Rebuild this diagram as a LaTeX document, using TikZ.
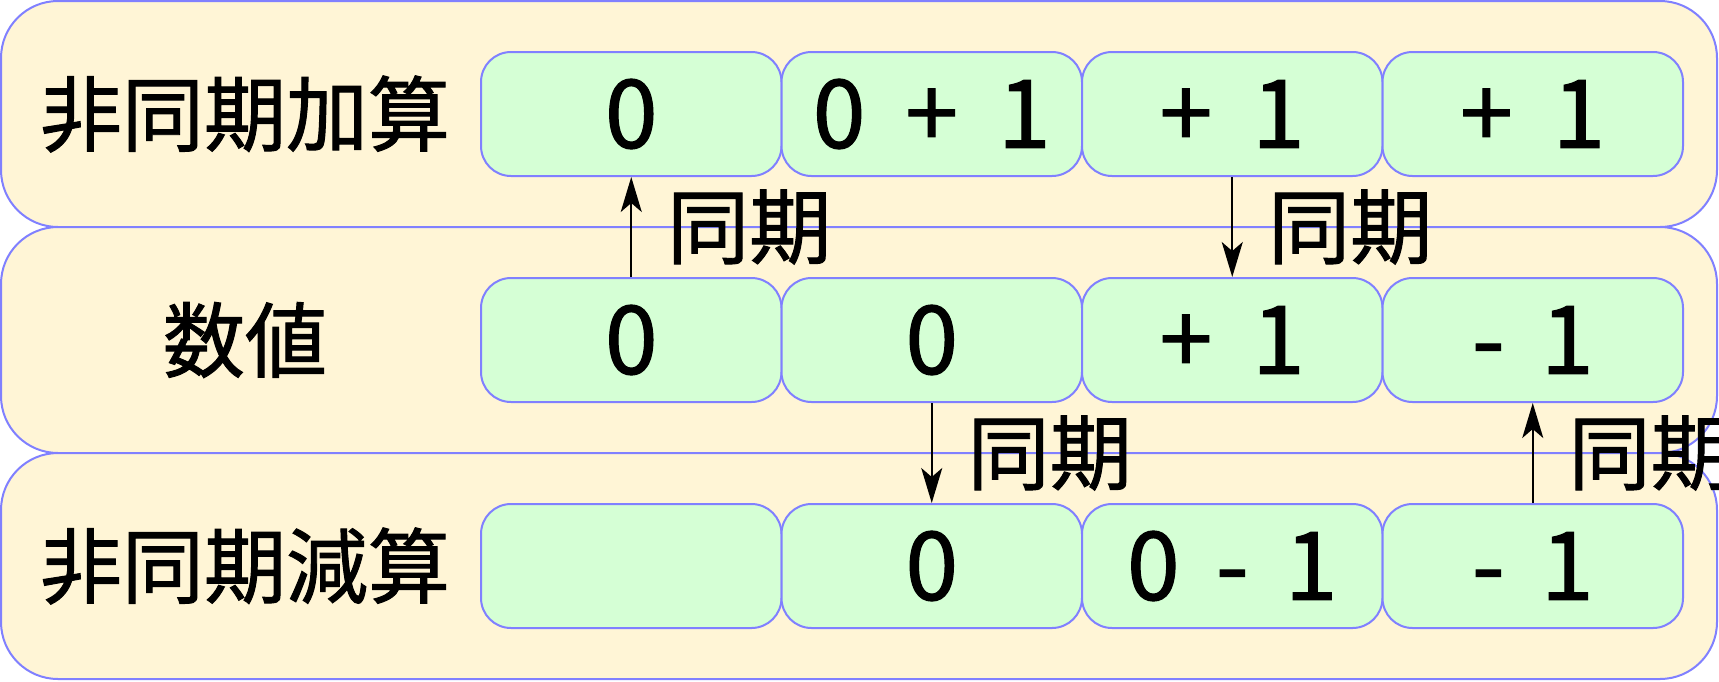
\documentclass[tikz,border=0pt]{standalone}
\usepackage{fontspec}
\setmainfont{Noto Sans CJK JP}[FakeBold=1.2]
\usetikzlibrary{arrows.meta}
\definecolor{cream}{RGB}{255,245,214}
\definecolor{mint}{RGB}{213,255,213}
\definecolor{bord}{RGB}{128,128,255}
\newcommand\labfont{\fontsize{82pt}{98pt}\selectfont}
\newcommand\valfont{\fontsize{95pt}{114pt}\selectfont}
\newcommand\pgap{\hspace{0.42em}}
\newcommand\mgap{\hspace{0.38em}}
\tikzset{
  rowbox/.style={draw=bord, fill=cream, line width=2pt, rounded corners=57pt,
    minimum width=1716pt, minimum height=226pt, inner sep=0pt},
  cell/.style={draw=bord, fill=mint, line width=2pt, rounded corners=30pt,
    minimum width=300.5pt, minimum height=124pt, inner sep=0pt, font=\valfont},
  rowlabel/.style={font=\labfont, inner sep=0pt},
  sync/.style={-{Stealth[length=35pt,width=21pt,inset=9pt]}, line width=2pt},
  synclabel/.style={font=\labfont, inner sep=0pt, anchor=west, xshift=35pt}
}
\begin{document}
\begin{tikzpicture}[x=1pt,y=-1pt]
\useasboundingbox (0,0) rectangle (1719,681);
% rows
\node[rowbox] (r1) at (859,114) {};
\node[rowbox] (r2) at (859,340) {};
\node[rowbox] (r3) at (859,566) {};
% row labels
\node[rowlabel] (l1) at (245,114) {非同期加算};
\node[rowlabel] (l2) at (245,340) {数値};
\node[rowlabel] (l3) at (245,566) {非同期減算};
% cells row 1
\node[cell] (c11) at (631.25,114) {0};
\node[cell] (c12) at (931.75,114) {0\pgap+\pgap1};
\node[cell] (c13) at (1232.25,114) {+\pgap1};
\node[cell] (c14) at (1532.75,114) {+\pgap1};
% cells row 2
\node[cell] (c21) at (631.25,340) {0};
\node[cell] (c22) at (931.75,340) {0};
\node[cell] (c23) at (1232.25,340) {+\pgap1};
\node[cell] (c24) at (1532.75,340) {-\mgap1};
% cells row 3
\node[cell] (c31) at (631.25,566) {};
\node[cell] (c32) at (931.75,566) {0};
\node[cell] (c33) at (1232.25,566) {0\mgap-\mgap1};
\node[cell] (c34) at (1532.75,566) {-\mgap1};
% sync arrows
\draw[sync] (c21.north) -- (c11.south) node[midway, synclabel] (s1) {同期};
\draw[sync] (c13.south) -- (c23.north) node[midway, synclabel] (s2) {同期};
\draw[sync] (c22.south) -- (c32.north) node[midway, synclabel] (s3) {同期};
\draw[sync] (c34.north) -- (c24.south) node[midway, synclabel] (s4) {同期};
\end{tikzpicture}
\end{document}
